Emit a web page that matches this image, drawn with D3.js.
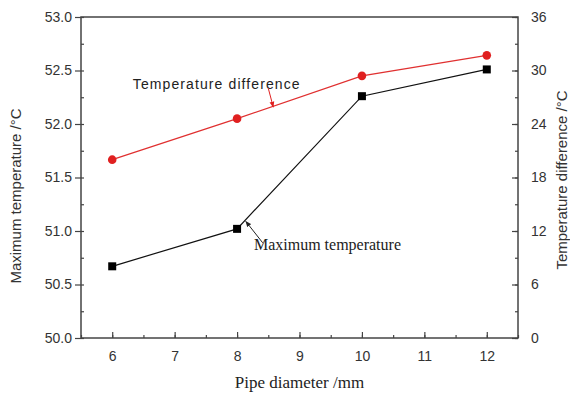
<!DOCTYPE html>
<html>
<head>
<meta charset="utf-8">
<script src="https://cdn.jsdelivr.net/npm/d3@7"></script>
<style>
  body { margin: 0; background: #fff; }
  svg { display: block; }
</style>
</head>
<body>
<script>
const diameters = [6, 8, 10, 12];
const maxTemp = [50.67, 51.02, 52.26, 52.51];
const tempDiff = [20.0, 24.6, 29.4, 31.7];
const xTicks = [6, 7, 8, 9, 10, 11, 12];
const leftTicks = [50.0, 50.5, 51.0, 51.5, 52.0, 52.5, 53.0];
const rightTicks = [0, 6, 12, 18, 24, 30, 36];

const w = 570, h = 397;
const margin = { left: 81, top: 17, right: 52, bottom: 59 };
const iw = w - margin.left - margin.right;
const ih = h - margin.top - margin.bottom;
const axisCol = '#444';
const textCol = '#333';

const svg = d3.select('body').append('svg')
  .attr('width', w).attr('height', h);

const g = svg.append('g')
  .attr('transform', `translate(${margin.left},${margin.top})`);

const x = d3.scaleLinear().domain([5.5, 12.5]).range([0, iw]);
const yL = d3.scaleLinear().domain([50, 53]).range([ih, 0]);
const yR = d3.scaleLinear().domain([0, 36]).range([ih, 0]);

// frame
g.append('rect')
  .attr('width', iw).attr('height', ih)
  .attr('fill', 'none').attr('stroke', axisCol).attr('stroke-width', 1.5);

const styleAxis = (sel) => {
  sel.select('.domain').remove();
  sel.selectAll('line').attr('stroke', axisCol).attr('stroke-width', 1.2);
  sel.selectAll('text')
    .attr('fill', textCol)
    .style('font-family', '"Liberation Sans", Arial, sans-serif')
    .style('font-size', '14px');
};

// x axis (ticks inward)
g.append('g').attr('transform', `translate(0,${ih})`)
  .call(d3.axisBottom(x).tickValues(d3.range(5.5, 12.51, 0.5)).tickSize(-3).tickFormat(''))
  .call(styleAxis);
g.append('g').attr('transform', `translate(0,${ih})`)
  .call(d3.axisBottom(x).tickValues(xTicks).tickSizeInner(-6).tickSizeOuter(0)
    .tickPadding(13).tickFormat(d3.format('d')))
  .call(styleAxis);

// left axis
g.append('g')
  .call(d3.axisLeft(yL).tickValues(d3.range(50, 53.01, 0.25)).tickSize(-3).tickFormat(''))
  .call(styleAxis);
g.append('g')
  .call(d3.axisLeft(yL).tickValues(leftTicks).tickSizeInner(6).tickSizeOuter(0)
    .tickPadding(3).tickFormat(d3.format('.1f')))
  .call(styleAxis);

// right axis (ticks inward)
g.append('g').attr('transform', `translate(${iw},0)`)
  .call(d3.axisRight(yR).tickValues(d3.range(0, 36.1, 3)).tickSize(-3).tickFormat(''))
  .call(styleAxis);
g.append('g').attr('transform', `translate(${iw},0)`)
  .call(d3.axisRight(yR).tickValues(rightTicks).tickSizeInner(-6).tickSizeOuter(0)
    .tickPadding(13).tickFormat(d3.format('d')))
  .call(styleAxis);

// series
const diffData = diameters.map((d, i) => ({ x: d, y: tempDiff[i] }));
const maxData = diameters.map((d, i) => ({ x: d, y: maxTemp[i] }));

g.append('path').datum(diffData)
  .attr('fill', 'none').attr('stroke', '#e03030').attr('stroke-width', 1.2)
  .attr('d', d3.line().x((d) => x(d.x)).y((d) => yR(d.y)));
g.append('path').datum(maxData)
  .attr('fill', 'none').attr('stroke', '#111').attr('stroke-width', 1.2)
  .attr('d', d3.line().x((d) => x(d.x)).y((d) => yL(d.y)));

g.selectAll('.dot').data(diffData).enter().append('circle')
  .attr('cx', (d) => x(d.x)).attr('cy', (d) => yR(d.y))
  .attr('r', 4.3).attr('fill', '#e02020');
g.selectAll('.sq').data(maxData).enter().append('rect')
  .attr('x', (d) => x(d.x) - 4).attr('y', (d) => yL(d.y) - 4)
  .attr('width', 8).attr('height', 8).attr('fill', '#000');

// annotations
const defs = svg.append('defs');
const mk = (id, col) => defs.append('marker').attr('id', id)
  .attr('viewBox', '0 0 10 10').attr('refX', 9).attr('refY', 5)
  .attr('markerWidth', 6).attr('markerHeight', 6).attr('orient', 'auto')
  .append('path').attr('d', 'M0,1L10,5L0,9Z').attr('fill', col);
mk('arrRed', '#e02020');
mk('arrBlk', '#222');

g.append('text')
  .attr('x', x(6.33)).attr('y', yR(27.9))
  .attr('fill', '#222')
  .style('font-family', '"Liberation Sans", Arial, sans-serif')
  .style('font-size', '14px').style('letter-spacing', '1.1px')
  .text('Temperature difference');
g.append('line')
  .attr('x1', x(8.5)).attr('y1', yR(28.0))
  .attr('x2', x(8.58)).attr('y2', yR(25.9))
  .attr('stroke', '#e02020').attr('stroke-width', 1)
  .attr('marker-end', 'url(#arrRed)');

g.append('text')
  .attr('x', x(8.27)).attr('y', yL(50.82))
  .attr('fill', '#222')
  .style('font-family', '"Liberation Serif", "Times New Roman", serif')
  .style('font-size', '16px')
  .text('Maximum temperature');
g.append('line')
  .attr('x1', x(8.41)).attr('y1', yL(50.89))
  .attr('x2', x(8.14)).attr('y2', yL(51.09))
  .attr('stroke', '#222').attr('stroke-width', 1)
  .attr('marker-end', 'url(#arrBlk)');

// axis titles
svg.append('text')
  .attr('x', margin.left + iw / 2).attr('y', 388)
  .attr('text-anchor', 'middle').attr('fill', '#222')
  .style('font-family', '"Liberation Serif", "Times New Roman", serif')
  .style('font-size', '17px')
  .text('Pipe diameter /mm');
svg.append('text')
  .attr('transform', `translate(21,196) rotate(-90)`)
  .attr('text-anchor', 'middle').attr('fill', textCol)
  .style('font-family', '"Liberation Sans", Arial, sans-serif')
  .style('font-size', '15px')
  .text('Maximum temperature /°C');
svg.append('text')
  .attr('transform', `translate(567,180) rotate(-90)`)
  .attr('text-anchor', 'middle').attr('fill', textCol)
  .style('font-family', '"Liberation Sans", Arial, sans-serif')
  .style('font-size', '15px')
  .text('Temperature difference /°C');
</script>
</body>
</html>
